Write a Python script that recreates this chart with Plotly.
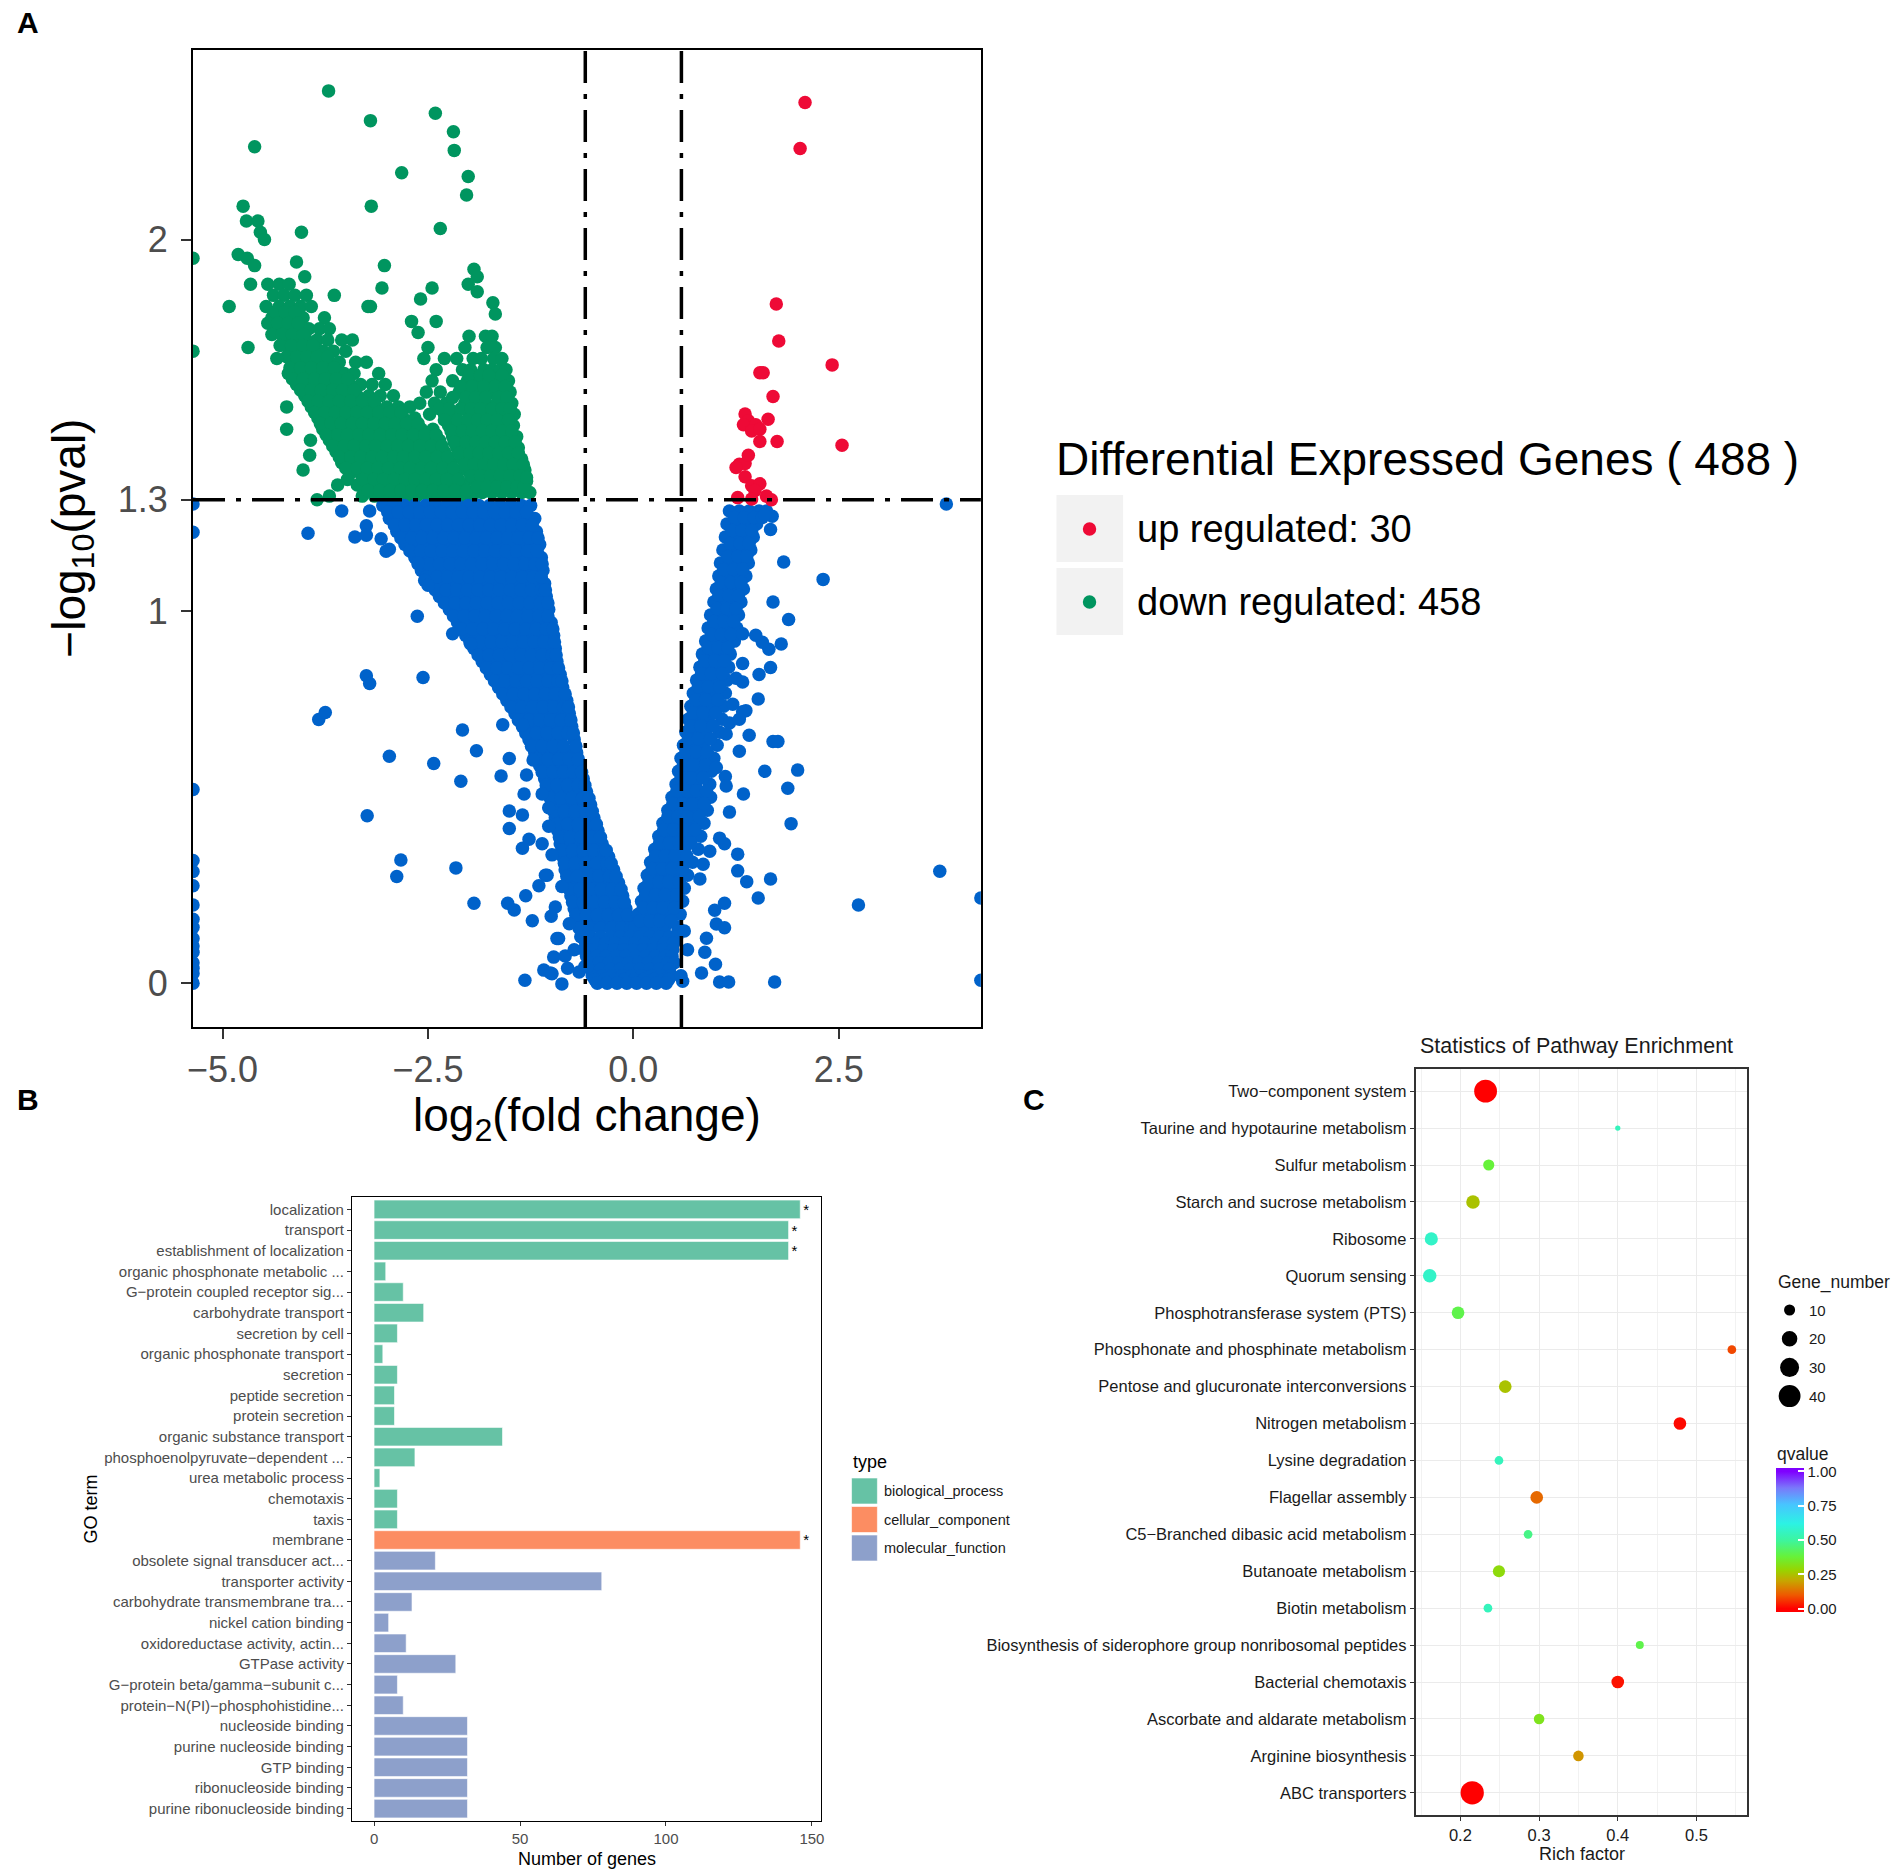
import plotly.graph_objects as go

W, H = 1904, 1875
FONT = "Liberation Sans, Arial, sans-serif"


def px(v):
    return v / W


def py(v):
    return 1 - v / H


# ---------------- panel A : volcano ----------------
FC_CUT = 0.585
P_CUT = 1.3
N_UP = 30
N_DOWN = 458

UP_POINTS = [
    (2.09, 2.369), (2.03, 2.245), (1.74, 1.827), (1.77, 1.727), (2.42, 1.663),
    (1.54, 1.642), (1.58, 1.642), (1.70, 1.578), (1.36, 1.531), (1.40, 1.513),
    (1.34, 1.502), (1.49, 1.502), (1.44, 1.485), (1.54, 1.490), (1.64, 1.517),
    (1.54, 1.457), (1.75, 1.457), (2.54, 1.447), (1.29, 1.396), (1.36, 1.398),
    (1.25, 1.387), (1.36, 1.362), (1.44, 1.338), (1.54, 1.343), (1.48, 1.325),
    (1.27, 1.306), (1.68, 1.300), (1.44, 1.302), (1.40, 1.420), (1.62, 1.310),
]

DOWN_SCATTER = [
    (-3.71, 2.40), (-3.20, 2.32), (-2.41, 2.34), (-2.19, 2.29), (-2.18, 2.24),
    (-4.61, 2.25), (-2.82, 2.18), (-2.01, 2.17), (-2.03, 2.12), (-3.19, 2.09),
    (-2.35, 2.03), (-4.75, 2.09), (-4.71, 2.05), (-4.57, 2.05), (-4.54, 2.02),
    (-4.49, 2.00), (-4.04, 2.02), (-5.36, 1.95), (-4.81, 1.96), (-4.70, 1.95),
    (-4.61, 1.93), (-4.92, 1.82), (-4.66, 1.88), (-4.69, 1.71), (-5.36, 1.70),
    (-4.34, 1.68), (-4.10, 1.94), (-4.00, 1.90), (-3.64, 1.85), (-3.03, 1.93),
    (-3.06, 1.87), (-3.23, 1.82), (-3.20, 1.82), (-2.59, 1.84), (-2.45, 1.87),
    (-1.94, 1.92), (-1.90, 1.90), (-2.01, 1.88), (-1.90, 1.86), (-1.71, 1.83),
    (-1.68, 1.80), (-2.40, 1.78), (-2.70, 1.78), (-2.62, 1.75), (-4.22, 1.55),
    (-4.22, 1.49), (-3.93, 1.46), (-3.94, 1.42), (-4.02, 1.38), (-3.85, 1.30),
    (-1.30, 1.36),
]

DOWN_LEFT_ROWS = [
    (1.88, [-4.45, -4.31, -4.19]),
    (1.85, [-4.38, -4.25, -4.12, -3.98]),
    (1.82, [-4.47, -4.31, -4.18, -4.05, -3.92]),
    (1.79, [-4.40, -4.27, -4.14, -4.02, -3.76]),
    (1.76, [-4.35, -4.22, -4.08, -3.95, -3.82, -3.70]),
    (1.73, [-4.25, -4.12, -3.98, -3.85, -3.72, -3.55, -3.42]),
    (1.70, [-4.18, -4.05, -3.92, -3.78, -3.65, -3.50]),
    (1.67, [-4.12, -3.98, -3.85, -3.72, -3.58, -3.38, -3.25]),
    (1.64, [-4.20, -4.05, -3.92, -3.80, -3.66, -3.52, -3.40, -3.10]),
    (1.61, [-4.10, -3.96, -3.84, -3.70, -3.58, -3.45, -3.32, -3.18, -3.02]),
    (1.58, [-4.00, -3.88, -3.76, -3.62, -3.50, -3.36, -3.22, -3.08, -2.92]),
    (1.55, [-3.92, -3.80, -3.66, -3.54, -3.40, -3.28, -3.14, -3.00, -2.86, -2.72]),
    (1.52, [-3.84, -3.72, -3.60, -3.46, -3.34, -3.20, -3.06, -2.94, -2.80, -2.66]),
    (1.49, [-3.78, -3.64, -3.52, -3.38, -3.26, -3.12, -2.98, -2.86, -2.72, -2.58, -2.44]),
    (1.46, [-3.70, -3.56, -3.44, -3.30, -3.18, -3.04, -2.90, -2.78, -2.64, -2.50, -2.36]),
    (1.43, [-3.62, -3.48, -3.36, -3.22, -3.10, -2.96, -2.84, -2.70, -2.56, -2.42, -2.30]),
    (1.40, [-3.55, -3.40, -3.28, -3.15, -3.02, -2.88, -2.76, -2.62, -2.50, -2.36, -2.22]),
    (1.37, [-3.45, -3.32, -3.20, -3.08, -2.94, -2.80, -2.68, -2.55, -2.42, -2.28, -2.15]),
    (1.34, [-3.60, -3.36, -3.22, -3.10, -2.98, -2.85, -2.72, -2.60, -2.46, -2.34, -2.20, -2.06]),
    (1.31, [-3.70, -3.30, -3.15, -3.02, -2.90, -2.76, -2.64, -2.50, -2.38, -2.24, -2.10, -1.96]),
]

DOWN_LEFT_FILL = [
    (1.805, [-4.36, -4.24, -4.12]),
    (1.775, [-4.45, -4.33, -4.20, -4.08]),
    (1.745, [-4.40, -4.28, -4.15, -4.02]),
    (1.715, [-4.30, -4.16, -4.02, -3.90]),
    (1.685, [-4.22, -4.10, -3.98, -3.85, -3.72]),
    (1.655, [-4.18, -4.05, -3.92, -3.78, -3.64]),
    (1.625, [-4.15, -4.02, -3.88, -3.75, -3.62, -3.48]),
    (1.595, [-4.05, -3.92, -3.80, -3.66, -3.54, -3.40]),
    (1.565, [-3.96, -3.84, -3.70, -3.58, -3.44, -3.30, -3.15]),
    (1.535, [-3.88, -3.76, -3.63, -3.50, -3.37, -3.24, -3.10, -2.97, -2.83]),
    (1.505, [-3.81, -3.68, -3.56, -3.42, -3.30, -3.16, -3.02, -2.90, -2.76, -2.62]),
    (1.475, [-3.74, -3.60, -3.48, -3.34, -3.22, -3.08, -2.94, -2.82, -2.68, -2.54, -2.40]),
    (1.445, [-3.66, -3.52, -3.40, -3.26, -3.14, -3.00, -2.87, -2.74, -2.60, -2.46, -2.33]),
    (1.415, [-3.58, -3.44, -3.32, -3.18, -3.06, -2.92, -2.80, -2.66, -2.53, -2.39, -2.26]),
    (1.385, [-3.50, -3.36, -3.24, -3.11, -2.98, -2.84, -2.72, -2.58, -2.46, -2.32, -2.19]),
    (1.355, [-3.48, -3.29, -3.16, -3.04, -2.91, -2.78, -2.66, -2.53, -2.40, -2.27, -2.13]),
    (1.325, [-3.23, -3.09, -2.96, -2.83, -2.70, -2.57, -2.44, -2.31, -2.17, -2.03]),
]

DOWN_RIGHT_ROWS = [
    (1.74, [-2.00, -1.80, -1.72]),
    (1.71, [-2.50, -2.05, -1.78, -1.68]),
    (1.68, [-2.55, -2.30, -2.15, -1.95, -1.85, -1.70, -1.60]),
    (1.65, [-2.40, -2.08, -1.98, -1.82, -1.72, -1.62, -1.55]),
    (1.62, [-2.45, -2.20, -2.02, -1.90, -1.75, -1.64, -1.52]),
    (1.59, [-2.52, -2.35, -2.12, -1.98, -1.86, -1.70, -1.58, -1.50]),
    (1.56, [-2.60, -2.42, -2.28, -2.05, -1.92, -1.80, -1.66, -1.55, -1.48]),
    (1.53, [-2.48, -2.30, -2.18, -2.00, -1.88, -1.74, -1.62, -1.50, -1.45]),
    (1.50, [-2.25, -2.10, -1.96, -1.82, -1.70, -1.58, -1.46]),
    (1.47, [-2.20, -2.05, -1.92, -1.78, -1.66, -1.54, -1.42]),
    (1.44, [-2.15, -2.00, -1.86, -1.74, -1.62, -1.50, -1.40]),
    (1.41, [-2.08, -1.95, -1.82, -1.70, -1.58, -1.46, -1.36]),
    (1.38, [-2.02, -1.88, -1.76, -1.64, -1.52, -1.40, -1.32]),
    (1.35, [-1.92, -1.80, -1.68, -1.56, -1.44, -1.30]),
    (1.32, [-1.84, -1.72, -1.60, -1.48, -1.36, -1.26]),
]

DOWN_RIGHT_FILL = [
    (1.635, [-2.00, -1.86, -1.76, -1.60]),
    (1.605, [-2.10, -1.96, -1.82, -1.68, -1.56]),
    (1.575, [-2.20, -2.04, -1.92, -1.80, -1.64, -1.54]),
    (1.545, [-2.36, -2.24, -2.10, -1.98, -1.86, -1.72, -1.60, -1.50]),
    (1.515, [-2.30, -2.14, -2.02, -1.90, -1.78, -1.66, -1.52]),
    (1.485, [-2.22, -2.08, -1.96, -1.84, -1.72, -1.60, -1.48]),
    (1.455, [-2.18, -2.04, -1.92, -1.80, -1.68, -1.56, -1.44]),
    (1.425, [-2.12, -1.99, -1.88, -1.76, -1.64, -1.52, -1.40]),
    (1.395, [-2.05, -1.94, -1.82, -1.70, -1.58, -1.46, -1.34]),
    (1.365, [-1.98, -1.86, -1.74, -1.62, -1.50, -1.38]),
    (1.335, [-1.90, -1.78, -1.66, -1.54, -1.42, -1.33]),
]

NS_LEFT_ROWS = [
    (1.285, [-3.05, -2.92, -2.79, -2.66, -2.53, -2.40, -2.27, -2.14, -2.01, -1.88, -1.75, -1.62, -1.49, -1.36, -1.25]),
    (1.25, [-2.97, -2.84, -2.71, -2.58, -2.45, -2.32, -2.19, -2.06, -1.93, -1.80, -1.67, -1.54, -1.41, -1.28, -1.20]),
    (1.215, [-2.88, -2.75, -2.62, -2.49, -2.36, -2.23, -2.10, -1.97, -1.84, -1.71, -1.58, -1.45, -1.32, -1.18]),
    (1.18, [-2.78, -2.65, -2.52, -2.39, -2.26, -2.13, -2.00, -1.87, -1.74, -1.61, -1.48, -1.35, -1.22, -1.14]),
    (1.145, [-2.66, -2.53, -2.40, -2.27, -2.14, -2.01, -1.88, -1.75, -1.62, -1.49, -1.36, -1.23, -1.12]),
    (1.11, [-2.58, -2.45, -2.32, -2.19, -2.06, -1.93, -1.80, -1.67, -1.54, -1.41, -1.28, -1.16, -1.10]),
    (1.075, [-2.46, -2.33, -2.20, -2.07, -1.94, -1.81, -1.68, -1.55, -1.42, -1.29, -1.17, -1.08]),
    (1.04, [-2.36, -2.23, -2.10, -1.97, -1.84, -1.71, -1.58, -1.45, -1.32, -1.19, -1.06]),
    (1.005, [-2.24, -2.11, -1.98, -1.85, -1.72, -1.59, -1.46, -1.33, -1.20, -1.08, -1.03]),
    (0.97, [-2.14, -2.01, -1.88, -1.75, -1.62, -1.49, -1.36, -1.23, -1.10, -1.00]),
    (0.935, [-2.04, -1.91, -1.78, -1.65, -1.52, -1.39, -1.26, -1.13, -1.01, -0.97]),
    (0.90, [-1.94, -1.81, -1.68, -1.55, -1.42, -1.29, -1.16, -1.04, -0.95]),
    (0.865, [-1.84, -1.71, -1.58, -1.45, -1.32, -1.19, -1.06, -0.93]),
    (0.83, [-1.74, -1.61, -1.48, -1.35, -1.22, -1.09, -0.97, -0.89]),
    (0.795, [-1.64, -1.51, -1.38, -1.25, -1.12, -0.99, -0.86]),
    (0.76, [-1.54, -1.41, -1.28, -1.15, -1.02, -0.90, -0.81]),
    (0.725, [-1.44, -1.31, -1.18, -1.05, -0.92, -0.78]),
    (0.69, [-1.35, -1.22, -1.09, -0.96, -0.84, -0.75]),
    (0.655, [-1.27, -1.14, -1.01, -0.88, -0.72]),
    (0.62, [-1.20, -1.07, -0.94, -0.81, -0.69]),
    (0.585, [-1.14, -1.01, -0.88, -0.75, -0.65]),
    (0.55, [-1.08, -0.95, -0.82, -0.70, -0.61]),
    (0.515, [-1.03, -0.90, -0.77, -0.64, -0.57]),
    (0.48, [-0.99, -0.86, -0.73, -0.60, -0.52]),
    (0.445, [-0.95, -0.82, -0.69, -0.57, -0.48]),
    (0.41, [-0.92, -0.79, -0.66, -0.53, -0.43]),
    (0.375, [-0.89, -0.76, -0.63, -0.50, -0.38]),
    (0.34, [-0.86, -0.73, -0.60, -0.47, -0.34, -0.30]),
    (0.305, [-0.83, -0.70, -0.57, -0.44, -0.31, -0.24]),
    (0.27, [-0.80, -0.67, -0.54, -0.41, -0.28, -0.18]),
    (0.235, [-0.76, -0.63, -0.50, -0.37, -0.24, -0.13]),
    (0.20, [-0.72, -0.59, -0.46, -0.33, -0.20, -0.09]),
    (0.165, [-0.68, -0.55, -0.42, -0.29, -0.16, -0.05]),
]

NS_LEFT_FILL = [
    (1.2675, [-2.99, -2.86, -2.73, -2.60, -2.47, -2.34, -2.21, -2.08, -1.95, -1.82, -1.69, -1.56, -1.43, -1.30]),
    (1.2325, [-2.91, -2.78, -2.65, -2.52, -2.39, -2.26, -2.13, -2.00, -1.87, -1.74, -1.61, -1.48, -1.35, -1.23]),
    (1.1975, [-2.83, -2.70, -2.57, -2.44, -2.31, -2.18, -2.05, -1.92, -1.79, -1.66, -1.53, -1.40, -1.27, -1.16]),
    (1.1625, [-2.72, -2.59, -2.46, -2.33, -2.20, -2.07, -1.94, -1.81, -1.68, -1.55, -1.42, -1.29, -1.17]),
    (1.1275, [-2.62, -2.49, -2.36, -2.23, -2.10, -1.97, -1.84, -1.71, -1.58, -1.45, -1.32, -1.20, -1.11]),
    (1.0925, [-2.52, -2.39, -2.26, -2.13, -2.00, -1.87, -1.74, -1.61, -1.48, -1.35, -1.22, -1.12]),
    (1.0575, [-2.41, -2.28, -2.15, -2.02, -1.89, -1.76, -1.63, -1.50, -1.37, -1.24, -1.12, -1.07]),
    (1.0225, [-2.30, -2.17, -2.04, -1.91, -1.78, -1.65, -1.52, -1.39, -1.26, -1.13, -1.04]),
    (0.9875, [-2.19, -2.06, -1.93, -1.80, -1.67, -1.54, -1.41, -1.28, -1.15, -1.04]),
    (0.9525, [-2.09, -1.96, -1.83, -1.70, -1.57, -1.44, -1.31, -1.18, -1.06, -0.98]),
    (0.9175, [-1.99, -1.86, -1.73, -1.60, -1.47, -1.34, -1.21, -1.09, -0.96]),
    (0.8825, [-1.89, -1.76, -1.63, -1.50, -1.37, -1.24, -1.11, -0.99, -0.94]),
    (0.8475, [-1.79, -1.66, -1.53, -1.40, -1.27, -1.14, -1.01, -0.91]),
    (0.8125, [-1.69, -1.56, -1.43, -1.30, -1.17, -1.04, -0.92, -0.87]),
    (0.7775, [-1.59, -1.46, -1.33, -1.20, -1.07, -0.95, -0.83]),
    (0.7425, [-1.49, -1.36, -1.23, -1.10, -0.97, -0.85, -0.79]),
    (0.7075, [-1.40, -1.27, -1.14, -1.01, -0.88, -0.76]),
    (0.6725, [-1.31, -1.18, -1.05, -0.92, -0.80, -0.73]),
    (0.6375, [-1.24, -1.11, -0.98, -0.85, -0.70]),
    (0.6025, [-1.17, -1.04, -0.91, -0.78, -0.67]),
    (0.5675, [-1.11, -0.98, -0.85, -0.73, -0.63]),
    (0.5325, [-1.06, -0.93, -0.80, -0.67, -0.59]),
    (0.4975, [-1.01, -0.88, -0.75, -0.62, -0.54]),
    (0.4625, [-0.97, -0.84, -0.71, -0.58, -0.50]),
    (0.4275, [-0.93, -0.80, -0.67, -0.55, -0.45]),
    (0.3925, [-0.90, -0.77, -0.64, -0.51, -0.40]),
    (0.3575, [-0.87, -0.74, -0.61, -0.48, -0.36, -0.33]),
    (0.3225, [-0.84, -0.71, -0.58, -0.45, -0.32, -0.27]),
    (0.2875, [-0.81, -0.68, -0.55, -0.42, -0.29, -0.21]),
    (0.2525, [-0.78, -0.65, -0.52, -0.39, -0.26, -0.15]),
    (0.2175, [-0.74, -0.61, -0.48, -0.35, -0.22, -0.11]),
    (0.1825, [-0.70, -0.57, -0.44, -0.31, -0.18, -0.07]),
    (0.1475, [-0.66, -0.53, -0.40, -0.27, -0.14, -0.03]),
]

NS_RIGHT_ROWS = [
    (1.27, [1.17, 1.29, 1.41, 1.53, 1.62]),
    (1.235, [1.14, 1.26, 1.38, 1.50]),
    (1.20, [1.12, 1.24, 1.36, 1.46]),
    (1.165, [1.09, 1.21, 1.33, 1.43]),
    (1.13, [1.06, 1.18, 1.30, 1.40]),
    (1.095, [1.04, 1.16, 1.28, 1.37]),
    (1.06, [1.01, 1.13, 1.25, 1.34]),
    (1.025, [0.98, 1.10, 1.22, 1.31]),
    (0.99, [0.94, 1.06, 1.18, 1.28]),
    (0.955, [0.91, 1.03, 1.15, 1.26]),
    (0.92, [0.88, 1.00, 1.12, 1.23]),
    (0.885, [0.84, 0.96, 1.08, 1.18]),
    (0.85, [0.81, 0.93, 1.05, 1.16]),
    (0.815, [0.77, 0.89, 1.01, 1.14]),
    (0.78, [0.73, 0.85, 0.97, 1.12]),
    (0.745, [0.70, 0.82, 0.94, 1.10]),
    (0.71, [0.67, 0.79, 0.91, 1.08]),
    (0.675, [0.64, 0.76, 0.88, 1.05]),
    (0.64, [0.61, 0.73, 0.85, 1.02]),
    (0.605, [0.58, 0.70, 0.82, 0.98]),
    (0.57, [0.55, 0.67, 0.79, 0.95]),
    (0.535, [0.52, 0.64, 0.76, 0.93]),
    (0.50, [0.47, 0.59, 0.71, 0.83, 0.94]),
    (0.465, [0.42, 0.54, 0.66, 0.78, 0.90]),
    (0.43, [0.36, 0.48, 0.60, 0.72, 0.86]),
    (0.395, [0.31, 0.43, 0.55, 0.67, 0.82]),
    (0.36, [0.26, 0.38, 0.50, 0.62, 0.79]),
    (0.325, [0.21, 0.33, 0.45, 0.57, 0.72]),
    (0.29, [0.17, 0.29, 0.41, 0.53, 0.66]),
    (0.255, [0.13, 0.25, 0.37, 0.49, 0.62]),
    (0.22, [0.10, 0.22, 0.34, 0.46, 0.60]),
    (0.185, [0.06, 0.18, 0.30, 0.42, 0.57]),
    (0.15, [0.02, 0.14, 0.26, 0.38, 0.54]),
]

NS_RIGHT_FILL = [
    (1.2525, [1.23, 1.35, 1.47, 1.57]),
    (1.2175, [1.20, 1.32, 1.44]),
    (1.1825, [1.18, 1.30, 1.41]),
    (1.1475, [1.15, 1.27, 1.38]),
    (1.1125, [1.10, 1.22, 1.33]),
    (1.0775, [1.07, 1.19, 1.31]),
    (1.0425, [1.04, 1.16, 1.28]),
    (1.0075, [1.02, 1.14, 1.25]),
    (0.9725, [0.98, 1.10, 1.22]),
    (0.9375, [0.95, 1.07, 1.19]),
    (0.9025, [0.91, 1.03, 1.15]),
    (0.8675, [0.87, 0.99, 1.11]),
    (0.8325, [0.83, 0.95, 1.08]),
    (0.7975, [0.79, 0.91, 1.05]),
    (0.7625, [0.76, 0.88, 1.03]),
    (0.7275, [0.73, 0.85, 1.00]),
    (0.6925, [0.70, 0.82, 0.97]),
    (0.6575, [0.67, 0.79, 0.94]),
    (0.6225, [0.64, 0.76, 0.90]),
    (0.5875, [0.61, 0.73, 0.88]),
    (0.5525, [0.58, 0.70, 0.85]),
    (0.5175, [0.53, 0.65, 0.77, 0.89]),
    (0.4825, [0.48, 0.60, 0.72, 0.86]),
    (0.4475, [0.42, 0.54, 0.66, 0.80]),
    (0.4125, [0.37, 0.49, 0.61, 0.75]),
    (0.3775, [0.32, 0.44, 0.56, 0.70]),
    (0.3425, [0.27, 0.39, 0.51, 0.65]),
    (0.3075, [0.23, 0.35, 0.47, 0.60]),
    (0.2725, [0.19, 0.31, 0.43, 0.56]),
    (0.2375, [0.15, 0.27, 0.39, 0.53]),
    (0.2025, [0.12, 0.24, 0.36, 0.50]),
    (0.1675, [0.08, 0.20, 0.32, 0.46]),
]

NS_BOTTOM_ROWS = [
    (0.125, [-0.64, -0.52, -0.40, -0.28, -0.16, -0.04, 0.08, 0.20, 0.32, 0.44, 0.53]),
    (0.1075, [-0.58, -0.46, -0.34, -0.22, -0.10, 0.02, 0.14, 0.26, 0.38, 0.49]),
    (0.09, [-0.60, -0.48, -0.36, -0.24, -0.12, 0.00, 0.12, 0.24, 0.36, 0.48]),
    (0.0725, [-0.57, -0.45, -0.33, -0.21, -0.09, 0.03, 0.15, 0.27, 0.39, 0.47]),
    (0.055, [-0.54, -0.42, -0.30, -0.18, -0.06, 0.06, 0.18, 0.30, 0.42, 0.50]),
    (0.0375, [-0.52, -0.40, -0.28, -0.16, -0.04, 0.08, 0.20, 0.32, 0.44]),
    (0.02, [-0.50, -0.38, -0.26, -0.14, -0.02, 0.10, 0.22, 0.34, 0.46]),
    (0.01, [-0.47, -0.35, -0.23, -0.11, 0.01, 0.13, 0.25, 0.37, 0.43]),
    (0.0, [-0.44, -0.32, -0.20, -0.08, 0.04, 0.16, 0.28, 0.40]),
]

NS_SCATTER = [
    (-5.36, 1.289), (-5.36, 1.213), (-5.36, 0.521), (-5.36, 0.33), (-5.36, 0.30),
    (-5.36, 0.262), (-5.36, 0.21), (-5.36, 0.172), (-5.36, 0.12), (-5.36, 0.083),
    (-5.36, 0.055), (-5.36, 0.026), (-5.36, 0.0), (-5.36, 0.15), (-5.36, 0.10),
    (-5.36, 0.04),
    (-3.96, 1.21), (-3.55, 1.27), (-3.21, 1.27), (-3.25, 1.23), (-3.39, 1.20),
    (-3.25, 1.205), (-3.07, 1.195), (-2.97, 1.167), (-3.01, 1.162), (-2.62, 1.13),
    (-2.54, 1.083), (-2.50, 1.07), (-2.63, 0.987), (-2.20, 0.94), (-1.98, 0.912),
    (-2.56, 0.822), (-3.25, 0.827), (-3.21, 0.806), (-3.83, 0.709), (-3.75, 0.728),
    (-2.97, 0.610), (-2.43, 0.591), (-2.10, 0.543), (-2.08, 0.681), (-1.91, 0.625),
    (-1.59, 0.695), (-1.35, 0.695), (-3.24, 0.450), (-2.83, 0.331), (-2.88, 0.287),
    (-2.16, 0.310), (-1.94, 0.215), (-1.53, 0.215), (-1.61, 0.557), (-1.51, 0.604),
    (-1.51, 0.463), (-1.51, 0.416), (-1.35, 0.452), (-1.27, 0.387), (-1.35, 0.363),
    (-1.33, 0.509), (-1.11, 0.509), (-1.03, 0.472), (-1.22, 0.60), (-1.30, 0.56),
    (-1.32, 0.008), (-1.09, 0.035), (-0.99, 0.025), (-0.87, -0.002), (-1.15, 0.262),
    (-1.07, 0.29), (-1.31, 0.235), (-1.23, 0.168), (-0.91, 0.12), (-0.83, 0.073),
    (-0.59, 0.045), (-1.45, 0.197), (-0.95, 0.205), (-0.87, 0.26), (-0.99, 0.345),
    (-1.11, 0.375), (-1.03, 0.422), (-1.01, 0.027), (-0.56, 0.045), (-0.93, 0.12),
    (-0.97, 0.07), (-1.00, 0.18), (-1.05, 0.29), (-0.78, 0.16), (-0.72, 0.09),
    (-0.66, 0.03), (-0.80, 0.04),
    (3.81, 1.289), (2.31, 1.086), (1.83, 1.133), (1.70, 1.025), (1.89, 0.978),
    (1.80, 0.912), (1.65, 0.898), (1.57, 0.917), (1.49, 0.936), (1.33, 0.940),
    (1.67, 0.849), (1.53, 0.830), (1.52, 0.764), (1.37, 0.733), (1.41, 0.667),
    (1.29, 0.624), (1.70, 0.650), (1.76, 0.650), (1.60, 0.570), (2.00, 0.573),
    (1.88, 0.524), (1.92, 0.429), (1.34, 0.509), (1.12, 0.556), (1.27, 0.347),
    (1.27, 0.302), (1.38, 0.273), (1.67, 0.280), (1.52, 0.229), (2.74, 0.210),
    (3.73, 0.301), (4.23, 0.229), (4.23, 0.008), (1.11, 0.215), (0.99, 0.196),
    (1.01, 0.159), (1.11, 0.149), (0.89, 0.121), (0.87, 0.083), (1.00, 0.051),
    (0.83, 0.027), (1.05, 0.003), (1.16, 0.003), (1.72, 0.003), (0.62, 0.14),
    (0.66, 0.09), (0.60, 0.005), (0.58, 0.02), (1.69, 1.256), (1.67, 1.22),
    (1.60, 1.26), (1.33, 0.86), (1.25, 0.82), (1.33, 0.81), (1.21, 0.75),
    (1.33, 0.73), (1.17, 0.70), (1.29, 0.71), (1.13, 0.67), (1.01, 0.58),
    (1.13, 0.53), (1.17, 0.46), (1.11, 0.375), (1.05, 0.39), (0.93, 0.355),
    (0.85, 0.32), (0.81, 0.28),
]

# ---------------- panel B : GO terms ----------------
GO_TERMS = [
    "localization", "transport", "establishment of localization",
    "organic phosphonate metabolic ...", "G−protein coupled receptor sig...",
    "carbohydrate transport", "secretion by cell", "organic phosphonate transport",
    "secretion", "peptide secretion", "protein secretion", "organic substance transport",
    "phosphoenolpyruvate−dependent ...", "urea metabolic process", "chemotaxis", "taxis",
    "membrane",
    "obsolete signal transducer act...", "transporter activity",
    "carbohydrate transmembrane tra...", "nickel cation binding",
    "oxidoreductase activity, actin...", "GTPase activity",
    "G−protein beta/gamma−subunit c...", "protein−N(PI)−phosphohistidine...",
    "nucleoside binding", "purine nucleoside binding", "GTP binding",
    "ribonucleoside binding", "purine ribonucleoside binding",
]
GO_COUNTS = [146, 142, 142, 4, 10, 17, 8, 3, 8, 7, 7, 44, 14, 2, 8, 8,
             146,
             21, 78, 13, 5, 11, 28, 8, 10, 32, 32, 32, 32, 32]
GO_TYPES = ["biological_process"] * 16 + ["cellular_component"] + ["molecular_function"] * 13
GO_STARS = ["*", "*", "*", "", "", "", "", "", "", "", "", "", "", "", "", "",
            "*",
            "", "", "", "", "", "", "", "", "", "", "", "", ""]
TYPE_NAMES = ["biological_process", "cellular_component", "molecular_function"]
TYPE_COLORS = {"biological_process": "#66C2A5", "cellular_component": "#FC8D62",
               "molecular_function": "#8DA0CB"}

# ---------------- panel C : KEGG enrichment ----------------
PATHWAYS = [
    "Two−component system", "Taurine and hypotaurine metabolism", "Sulfur metabolism",
    "Starch and sucrose metabolism", "Ribosome", "Quorum sensing",
    "Phosphotransferase system (PTS)", "Phosphonate and phosphinate metabolism",
    "Pentose and glucuronate interconversions", "Nitrogen metabolism",
    "Lysine degradation", "Flagellar assembly", "C5−Branched dibasic acid metabolism",
    "Butanoate metabolism", "Biotin metabolism",
    "Biosynthesis of siderophore group nonribosomal peptides", "Bacterial chemotaxis",
    "Ascorbate and aldarate metabolism", "Arginine biosynthesis", "ABC transporters",
]
RICH_FACTOR = [0.232, 0.400, 0.236, 0.216, 0.163, 0.161, 0.197, 0.545, 0.257, 0.479,
               0.249, 0.297, 0.286, 0.249, 0.235, 0.428, 0.400, 0.300, 0.350, 0.215]
QVALUE = [0.00, 0.55, 0.38, 0.25, 0.57, 0.57, 0.40, 0.08, 0.25, 0.01,
          0.55, 0.12, 0.47, 0.30, 0.55, 0.40, 0.02, 0.33, 0.18, 0.00]
GENE_NUMBER = [43, 2, 10, 15, 14, 15, 13, 6, 13, 13, 6, 13, 6, 12, 6, 5, 13, 9, 9, 45]
LEGEND_GENES = [10, 20, 30, 40]
QVALUE_TICKS = [0, 0.25, 0.5, 0.75, 1]
QVALUE_COLORS = [(0.0, "#FF0000"), (0.1, "#EE5A00"), (0.2, "#C8A400"), (0.28, "#98D400"),
                 (0.38, "#66F23A"), (0.5, "#3CF5A0"), (0.62, "#2CF2E4"), (0.76, "#48C4FF"),
                 (0.88, "#7A78FA"), (1.0, "#7F00FF")]

GREEN = "#00955F"
BLUE = "#0062CA"
RED = "#EE0A36"

# colour bar runs a little past 0 and 1, like ggplot's
Q_PAD = 0.025
q_lo, q_hi = -Q_PAD, 1 + Q_PAD
q_scale = [[0.0, QVALUE_COLORS[0][1]]]
q_scale += [[(v - q_lo) / (q_hi - q_lo), c] for v, c in QVALUE_COLORS]
q_scale += [[1.0, QVALUE_COLORS[-1][1]]]


def unpack(*groups):
    xs, ys = [], []
    for rows in groups:
        for y, row in rows:
            xs += row
            ys += [y] * len(row)
    return xs, ys


def gene_size(n):
    return (4 + 12 * n) ** 0.5


down_x, down_y = unpack(DOWN_LEFT_ROWS, DOWN_LEFT_FILL, DOWN_RIGHT_ROWS, DOWN_RIGHT_FILL)
down_x += [p[0] for p in DOWN_SCATTER]
down_y += [p[1] for p in DOWN_SCATTER]

ns_x, ns_y = unpack(NS_LEFT_ROWS, NS_LEFT_FILL, NS_RIGHT_ROWS, NS_RIGHT_FILL, NS_BOTTOM_ROWS)
ns_x += [p[0] for p in NS_SCATTER]
ns_y += [p[1] for p in NS_SCATTER]

fig = go.Figure()
fig.add_trace(go.Scatter(x=down_x, y=down_y, mode="markers", xaxis="x", yaxis="y",
                         marker=dict(color=GREEN, size=13.5, line=dict(width=0)), showlegend=False))
fig.add_trace(go.Scatter(x=ns_x, y=ns_y, mode="markers", xaxis="x", yaxis="y",
                         marker=dict(color=BLUE, size=13.5, line=dict(width=0)), showlegend=False))
fig.add_trace(go.Scatter(x=[p[0] for p in UP_POINTS], y=[p[1] for p in UP_POINTS],
                         mode="markers", xaxis="x", yaxis="y",
                         marker=dict(color=RED, size=13.5, line=dict(width=0)), showlegend=False))

fig.add_trace(go.Bar(x=GO_COUNTS, y=GO_TERMS, orientation="h", xaxis="x2", yaxis="y2",
                     width=0.9, marker=dict(color=[TYPE_COLORS[t] for t in GO_TYPES],
                                            line=dict(color="white", width=0.6)),
                     text=GO_STARS, textposition="outside", constraintext="none",
                     textfont=dict(size=15, color="black", family=FONT),
                     cliponaxis=False, showlegend=False))

fig.add_trace(go.Scatter(
    x=RICH_FACTOR, y=PATHWAYS, mode="markers", xaxis="x3", yaxis="y3", showlegend=False,
    marker=dict(size=[gene_size(n) for n in GENE_NUMBER], color=QVALUE,
                colorscale=q_scale, cmin=q_lo, cmax=q_hi, opacity=1, line=dict(width=0),
                colorbar=dict(x=px(1779), xanchor="left", y=py(1468), yanchor="top",
                              len=144, lenmode="pixels", thickness=28, xpad=0, ypad=0,
                              outlinewidth=0, tickvals=QVALUE_TICKS,
                              ticktext=[f"{v:.2f}" for v in QVALUE_TICKS],
                              ticks="inside", ticklen=6, tickcolor="white", tickwidth=1.5,
                              tickfont=dict(size=15, color="#1a1a1a", family=FONT)))))

# threshold lines
dash = "32px,11px,5px,11px"
shapes = [
    dict(type="line", xref="x domain", yref="y", x0=0, x1=1, y0=P_CUT, y1=P_CUT,
         line=dict(color="black", width=3.5, dash=dash)),
    dict(type="line", xref="x", yref="y domain", x0=-FC_CUT, x1=-FC_CUT, y0=0, y1=1,
         line=dict(color="black", width=3.5, dash=dash)),
    dict(type="line", xref="x", yref="y domain", x0=FC_CUT, x1=FC_CUT, y0=0, y1=1,
         line=dict(color="black", width=3.5, dash=dash)),
]

# legend A
for i, col in enumerate([RED, GREEN]):
    top = 495 + i * 73
    shapes.append(dict(type="rect", xref="paper", yref="paper", x0=px(1056), x1=px(1123),
                       y0=py(top + 67), y1=py(top), fillcolor="#F2F2F2", line=dict(width=0)))
    cy = top + 34
    shapes.append(dict(type="circle", xref="paper", yref="paper", x0=px(1082.5), x1=px(1096),
                       y0=py(cy + 6.75), y1=py(cy - 6.75), fillcolor=col, line=dict(width=0)))

# legend B
for i, t in enumerate(TYPE_NAMES):
    top = 1478 + i * 28.5
    shapes.append(dict(type="rect", xref="paper", yref="paper", x0=px(850), x1=px(876),
                       y0=py(top + 26), y1=py(top), fillcolor=TYPE_COLORS[t],
                       line=dict(color="white", width=0.6)))

# legend C sizes
for i, n in enumerate(LEGEND_GENES):
    cy = 1310 + i * 28.7
    r = gene_size(n) / 2
    shapes.append(dict(type="circle", xref="paper", yref="paper", x0=px(1793 - r), x1=px(1793 + r),
                       y0=py(cy + r), y1=py(cy - r), fillcolor="black", line=dict(width=0)))


def ann(text, x, y, size, color="black", xanchor="center", angle=0, bold=False):
    return dict(text=f"<b>{text}</b>" if bold else text, x=px(x), y=py(y), xref="paper",
                yref="paper", showarrow=False, xanchor=xanchor, yanchor="middle",
                textangle=angle, font=dict(size=size, color=color, family=FONT))


annotations = [
    ann("A", 22, 22, 30, bold=True),
    ann("B", 22, 1099, 30, bold=True),
    ann("C", 1033, 1099, 30, bold=True),
    ann("log<sub>2</sub>(fold change)", 584, 1118, 46),
    ann("−log<sub>10</sub>(pval)", 67, 538, 46, angle=-90),
    ann(f"Differential Expressed Genes ( {N_UP + N_DOWN} )", 1054, 459, 46, xanchor="left"),
    ann(f"up regulated: {N_UP}", 1135, 529, 38, xanchor="left"),
    ann(f"down regulated: {N_DOWN}", 1135, 602, 38, xanchor="left"),
    ann("Number of genes", 584, 1859, 18),
    ann("GO term", 85, 1509, 18, angle=-90),
    ann("type", 849, 1462, 18, xanchor="left"),
    ann("Statistics of Pathway Enrichment", 1419, 1046, 21.5, color="#1a1a1a", xanchor="left"),
    ann("Rich factor", 1584, 1854, 18, color="#1a1a1a"),
    ann("Gene_number", 1779, 1282, 17.5, color="#1a1a1a", xanchor="left"),
    ann("qvalue", 1778, 1454, 17.5, color="#1a1a1a", xanchor="left"),
]
for i, t in enumerate(TYPE_NAMES):
    annotations.append(ann(t, 881, 1491 + i * 28.5, 14.5, color="#1a1a1a", xanchor="left"))
for i, n in enumerate(LEGEND_GENES):
    annotations.append(ann(str(n), 1811, 1310 + i * 28.7, 15, color="#1a1a1a", xanchor="left"))

frame = dict(showline=True, mirror=True, showgrid=False, zeroline=False, ticks="outside")

fig.update_layout(
    width=W, height=H, margin=dict(l=0, r=0, t=0, b=0),
    paper_bgcolor="white", plot_bgcolor="white",
    font=dict(family=FONT, color="black"),
    shapes=shapes, annotations=annotations,
    xaxis=dict(frame, domain=[px(188), px(980)], range=[-5.36, 4.23], anchor="y",
               tickvals=[-5, -2.5, 0, 2.5], ticktext=["−5.0", "−2.5", "0.0", "2.5"],
               linecolor="black", linewidth=2.2, ticklen=10, tickwidth=2, tickcolor="#333",
               tickfont=dict(size=36, color="#4D4D4D")),
    yaxis=dict(frame, domain=[py(1027), py(50)], range=[-0.118, 2.51], anchor="x",
               tickvals=[0, 1, 1.3, 2], ticktext=["0", "1", "1.3", "2"],
               linecolor="black", linewidth=2.2, ticklen=10, tickwidth=2, tickcolor="#333",
               ticklabelstandoff=6, tickfont=dict(size=36, color="#4D4D4D")),
    xaxis2=dict(frame, domain=[px(348), px(819)], range=[-7.5, 153], anchor="y2",
                tickvals=[0, 50, 100, 150], linecolor="black", linewidth=1.4, ticklen=4,
                tickcolor="#333", tickfont=dict(size=15, color="#4D4D4D")),
    yaxis2=dict(frame, domain=[py(1821), py(1197)], anchor="x2", type="category",
                categoryorder="array", categoryarray=GO_TERMS,
                range=[len(GO_TERMS) - 0.4, -0.6], linecolor="black", linewidth=1.4,
                ticklen=4, tickcolor="#333", tickfont=dict(size=15, color="#4D4D4D")),
    xaxis3=dict(frame, domain=[px(1417), px(1750)], range=[0.143, 0.564], anchor="y3",
                tickvals=[0.2, 0.3, 0.4, 0.5], showgrid=True, gridcolor="#EBEBEB", gridwidth=1.4,
                minor=dict(tickvals=[0.15, 0.25, 0.35, 0.45, 0.55], showgrid=True,
                           gridcolor="#F2F2F2", gridwidth=0.8),
                linecolor="#333", linewidth=1.5, ticklen=4, tickcolor="#333",
                tickfont=dict(size=16.5, color="#1a1a1a")),
    yaxis3=dict(frame, domain=[py(1815), py(1069)], anchor="x3", type="category",
                categoryorder="array", categoryarray=PATHWAYS,
                range=[len(PATHWAYS) - 0.4, -0.6], showgrid=True, gridcolor="#EBEBEB",
                gridwidth=1.4, linecolor="#333", linewidth=1.5, ticklen=4, tickcolor="#333",
                tickfont=dict(size=16.5, color="#1a1a1a")),
)

fig.write_html("out.html", config={"displayModeBar": False},
               post_script="document.body.style.margin='0';")
